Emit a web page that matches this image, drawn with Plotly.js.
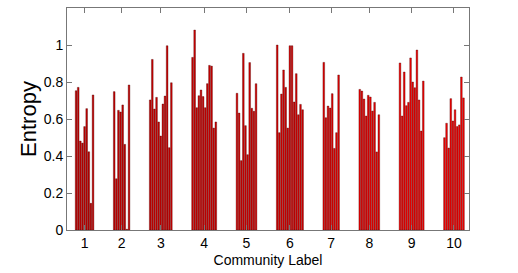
<!DOCTYPE html>
<html>
<head>
<meta charset="utf-8">
<script src="https://cdn.plot.ly/plotly-3.0.1.min.js"></script>
<style>html,body{margin:0;padding:0;background:#fff;}#chart{width:518px;height:273px;}</style>
</head>
<body>
<div id="chart"></div>
<script>
const communityLabels = ['1','2','3','4','5','6','7','8','9','10'];
const entropy1 = [0.753, 0.771, 0.481, 0.470, 0.559, 0.656, 0.423, 0.144, 0.730];
const entropy2 = [0.748, 0.277, 0.647, 0.638, 0.676, 0.463, 0.004, 0.784];
const entropy3 = [0.703, 0.922, 0.654, 0.717, 0.584, 0.508, 0.681, 0.724, 0.996, 0.445, 0.796];
const entropy4 = [0.933, 1.081, 0.661, 0.726, 0.757, 0.721, 0.661, 0.791, 0.890, 0.886, 0.551, 0.584];
const entropy5 = [0.739, 0.632, 0.375, 0.955, 0.564, 0.407, 0.905, 0.658, 0.642, 0.791];
const entropy6 = [1.000, 0.526, 0.735, 0.865, 0.771, 0.551, 0.996, 0.996, 0.692, 0.845, 0.623, 0.679, 0.650];
const entropy7 = [0.906, 0.607, 0.670, 0.659, 0.737, 0.441, 0.526, 0.838];
const entropy8 = [0.760, 0.751, 0.708, 0.616, 0.728, 0.719, 0.643, 0.690, 0.422, 0.623];
const entropy9 = [0.903, 0.616, 0.854, 0.672, 0.690, 0.930, 0.800, 0.769, 0.973, 0.703, 0.535, 0.805];
const entropy10 = [0.499, 0.577, 0.443, 0.710, 0.589, 0.650, 0.559, 0.568, 0.827, 0.714];

const groups = [entropy1, entropy2, entropy3, entropy4, entropy5, entropy6, entropy7, entropy8, entropy9, entropy10];
const groupColors = ['#c00000','#c40000','#c80000','#cc0000','#d00000','#d40000','#e00000','#e80000','#f00000','#f60000'];

const traces = [];
const tickvals = [];
let pos = 1;
groups.forEach((vals, gi) => {
  const xs = vals.map((v, i) => pos + i);
  tickvals.push((xs[0] + xs[xs.length - 1]) / 2);
  traces.push({
    type: 'bar',
    x: xs,
    y: vals,
    width: 0.8,
    marker: {color: groupColors[gi], line: {color: 'rgba(70,0,0,0.7)', width: 0.5}},
    showlegend: false,
    hoverinfo: 'y'
  });
  pos = xs[xs.length - 1] + 10;
});

const axisFont = {family: 'Liberation Sans, Arial, sans-serif', size: 14, color: '#000'};
const layout = {
  width: 518, height: 273,
  margin: {l: 67, r: 49, t: 8, b: 43},
  paper_bgcolor: '#fff', plot_bgcolor: '#fff',
  barmode: 'overlay',
  showlegend: false,
  font: axisFont,
  xaxis: {
    range: [-3.3, 186.6],
    tickmode: 'array', tickvals: tickvals, ticktext: communityLabels,
    ticks: 'inside', ticklen: 5, tickcolor: '#777', tickwidth: 1,
    showline: true, linecolor: '#777', linewidth: 1, mirror: 'ticks',
    showgrid: false, zeroline: false,
    tickfont: axisFont,
    title: {text: 'Community Label', font: axisFont, standoff: 5}
  },
  yaxis: {
    range: [0, 1.2],
    tickmode: 'array', tickvals: [0, 0.2, 0.4, 0.6, 0.8, 1], ticktext: ['0','0.2','0.4','0.6','0.8','1'],
    ticks: 'inside', ticklen: 5, tickcolor: '#777', tickwidth: 1,
    showline: true, linecolor: '#777', linewidth: 1, mirror: 'ticks',
    showgrid: false, zeroline: false,
    tickfont: axisFont,
    title: {text: 'Entropy', font: {family: 'Liberation Sans, Arial, sans-serif', size: 22, color: '#000'}, standoff: 1}
  }
};

Plotly.newPlot('chart', traces, layout, {displayModeBar: false, staticPlot: true});
</script>
</body>
</html>
